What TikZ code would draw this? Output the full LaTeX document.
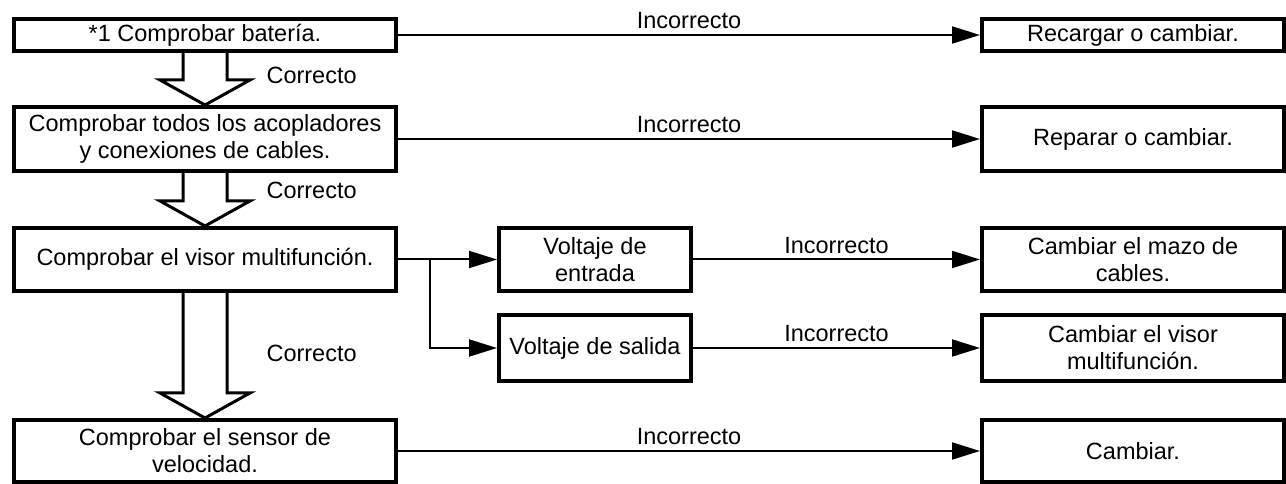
\documentclass[tikz,border=0pt]{standalone}
\usepackage{fontspec}
\setmainfont{Liberation Sans}
\usetikzlibrary{arrows.meta,calc}
\tikzset{
 chk/.style={draw,line width=4pt,inner sep=0pt,align=center,minimum width=382pt,minimum height=#1},
 fix/.style={draw,line width=4pt,inner sep=0pt,align=center,minimum width=302pt,minimum height=#1},
 volt/.style={draw,line width=4pt,inner sep=0pt,align=center,minimum width=192pt,minimum height=#1},
 ng/.style={line width=2pt,-{Triangle[length=28pt,width=17pt]}},
 ok/.style={line width=3pt},
 lbl/.style={midway,above,inner sep=5pt}}
\newcommand{\okarrow}[2]{%
 \draw[ok] ($(#1.south)+(-22,0)$) -- ($(#2.north)+(-22,25)$) -- ($(#2.north)+(-45,25)$)
  -- (#2.north) -- ($(#2.north)+(45,25)$) -- ($(#2.north)+(22,25)$) -- ($(#1.south)+(22,0)$);}

\begin{document}
\begin{tikzpicture}[x=1pt,y=1pt,font=\fontsize{23.5}{27}\selectfont]
 \useasboundingbox (0,0) rectangle (1286,484);
 % left column
 \node[chk=32pt] (bat) at (205,449) {*1 Comprobar batería.};
 \node[chk=64pt] (acop) at (205,345) {Comprobar todos los acopladores\\y conexiones de cables.};
 \node[chk=63pt] (visor) at (205,224.5) {Comprobar el visor multifunción.};
 \node[chk=62pt] (sens) at (205,33) {Comprobar el sensor de\\velocidad.};
 % voltages
 \node[volt=63pt] (vin) at (595,224.5) {Voltaje de\\entrada};
 \node[volt=66pt] (vout) at (595,136) {Voltaje de salida};
 % right column
 \node[fix=32pt] (recarg) at (1133,449) {Recargar o cambiar.};
 \node[fix=64pt] (repar) at (1133,345) {Reparar o cambiar.};
 \node[fix=63pt] (mazo) at (1133,224.5) {Cambiar el mazo de\\cables.};
 \node[fix=66pt] (cvisor) at (1133,136) {Cambiar el visor\\multifunción.};
 \node[fix=62pt] (cambiar) at (1133,33) {Cambiar.};

 \okarrow{bat}{acop}
 \okarrow{acop}{visor}
 \okarrow{visor}{sens}
 \node[anchor=west] (c1) at (263,409) {Correcto};
 \node[anchor=west] (c2) at (263,294) {Correcto};
 \node[anchor=west] (c3) at (263,131) {Correcto};

 \draw[ng] (bat) -- node[lbl] {Incorrecto} (recarg);
 \draw[ng] (acop) -- node[lbl] {Incorrecto} (repar);
 \draw[ng] (visor) -- (vin);
 \coordinate (split) at ($(visor.east)+(32,0)$);
 \draw[ng] (split) |- (vout);
 \draw[ng] (vin) -- node[lbl] {Incorrecto} (mazo);
 \draw[ng] (vout) -- node[lbl] {Incorrecto} (cvisor);
 \draw[ng] (sens) -- node[lbl] {Incorrecto} (cambiar);
\end{tikzpicture}
\end{document}
